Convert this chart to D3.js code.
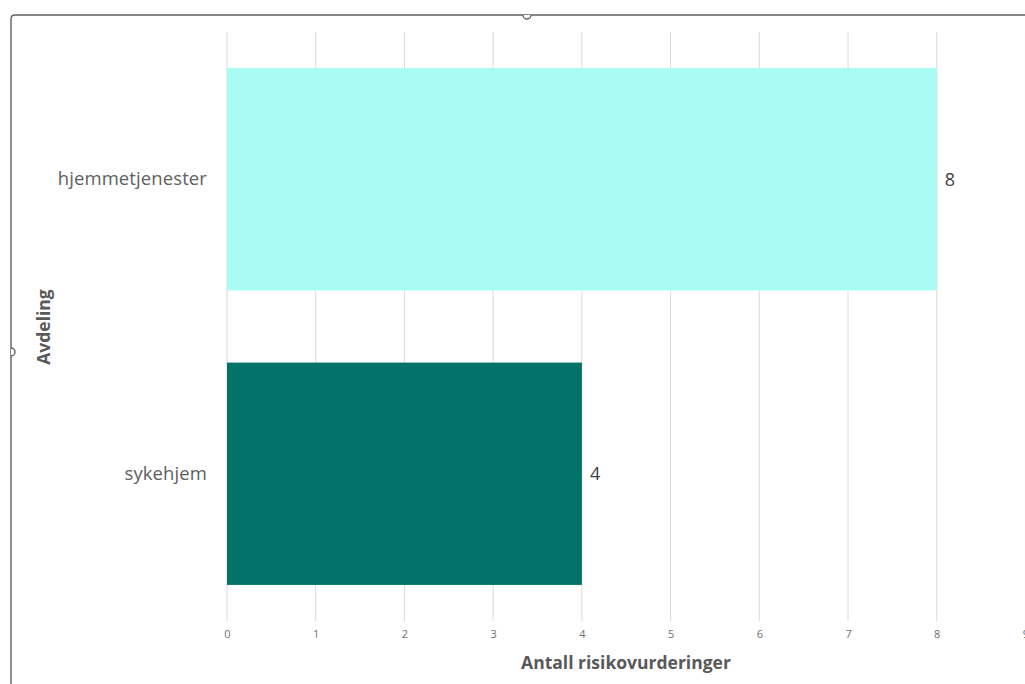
<!DOCTYPE html>
<html>
<head>
<meta charset="utf-8">
<script src="https://cdn.jsdelivr.net/npm/d3@7"></script>
<style>
  html, body { margin: 0; padding: 0; background: #ffffff; }
  svg { display: block; }
</style>
</head>
<body>
<svg id="chart" width="1025" height="684"></svg>
<script>
// Risk assessments per department
const categories = ["hjemmetjenester", "sykehjem"];
const values = [8, 4];
const barColors = ["#A8FCF4", "#03736A"];
const xTicks = [0, 1, 2, 3, 4, 5, 6, 7, 8, 9];
const xTitle = "Antall risikovurderinger";
const yTitle = "Avdeling";

const svg = d3.select("#chart");
const W = 1025, H = 684;
const margin = { top: 32, right: 0, bottom: 63, left: 227 };

const x = d3.scaleLinear().domain([0, 9]).range([margin.left, margin.left + 88.72 * 9]);
const y = d3.scaleBand().domain(categories).range([margin.top, H - margin.bottom]).paddingInner(0.245).paddingOuter(0.1225);

const textColor = "#595959";

// Chart frame (selected-chart outline)
const frame = svg.append("g");
frame.append("path")
  .attr("d", `M11,${H + 2} L11,19 Q11,15 15,15 L${W + 2},15`)
  .attr("fill", "none").attr("stroke", "#5f5f5f").attr("stroke-width", 1.4);
// handles
frame.append("path")
  .attr("d", "M523,15 A4,4 0 0,0 531,15")
  .attr("fill", "#fff").attr("stroke", "#5f5f5f").attr("stroke-width", 1.4);
frame.append("path")
  .attr("d", "M11,348 A4,4 0 0,1 11,356")
  .attr("fill", "#fff").attr("stroke", "#5f5f5f").attr("stroke-width", 1.4);

// Vertical gridlines
svg.append("g")
  .selectAll("line")
  .data(xTicks)
  .join("line")
  .attr("x1", d => x(d)).attr("x2", d => x(d))
  .attr("y1", margin.top).attr("y2", H - margin.bottom)
  .attr("stroke", "#d9d9d9").attr("stroke-width", 1);

// X axis tick labels
const xAxis = d3.axisBottom(x).tickValues(xTicks).tickSize(0).tickPadding(0).tickFormat(d3.format("d"));
const gx = svg.append("g")
  .attr("transform", `translate(0,${H - margin.bottom + 9})`)
  .call(xAxis);
gx.select(".domain").remove();
gx.selectAll("text")
  .attr("fill", "#6f6f6f")
  .attr("font-family", "'Open Sans', sans-serif")
  .attr("font-size", 11)
  .attr("dy", "0.71em");

// Y axis category labels
const yAxis = d3.axisLeft(y).tickSize(0).tickPadding(20);
const gy = svg.append("g")
  .attr("transform", `translate(${margin.left},0)`)
  .call(yAxis);
gy.select(".domain").remove();
gy.selectAll("text")
  .attr("fill", "#606060")
  .attr("font-family", "'Open Sans', sans-serif")
  .attr("font-size", 18.5)
  .attr("letter-spacing", 0.1);

// Bars
svg.append("g")
  .selectAll("rect")
  .data(categories)
  .join("rect")
  .attr("x", x(0))
  .attr("y", d => y(d))
  .attr("width", (d, i) => x(values[i]) - x(0))
  .attr("height", y.bandwidth())
  .attr("fill", (d, i) => barColors[i]);

// Value labels
svg.append("g")
  .selectAll("text")
  .data(categories)
  .join("text")
  .attr("x", (d, i) => x(values[i]) + 8)
  .attr("y", d => y(d) + y.bandwidth() / 2)
  .attr("dy", "0.35em")
  .attr("fill", "#404040")
  .attr("font-family", "'Open Sans', sans-serif")
  .attr("font-size", 18)
  .text((d, i) => values[i]);

// Axis titles
svg.append("text")
  .attr("x", 626)
  .attr("y", 663)
  .attr("dy", "0.35em")
  .attr("text-anchor", "middle")
  .attr("fill", textColor)
  .attr("font-family", "'Open Sans', sans-serif")
  .attr("font-weight", "bold")
  .attr("font-size", 17.5)
  .attr("letter-spacing", 0)
  .text(xTitle);

svg.append("text")
  .attr("transform", "translate(44,327) rotate(-90)")
  .attr("dy", "0.35em")
  .attr("text-anchor", "middle")
  .attr("fill", textColor)
  .attr("font-family", "'Open Sans', sans-serif")
  .attr("font-weight", "bold")
  .attr("font-size", 17.5)
  .attr("letter-spacing", 0)
  .text(yTitle);
</script>
</body>
</html>
